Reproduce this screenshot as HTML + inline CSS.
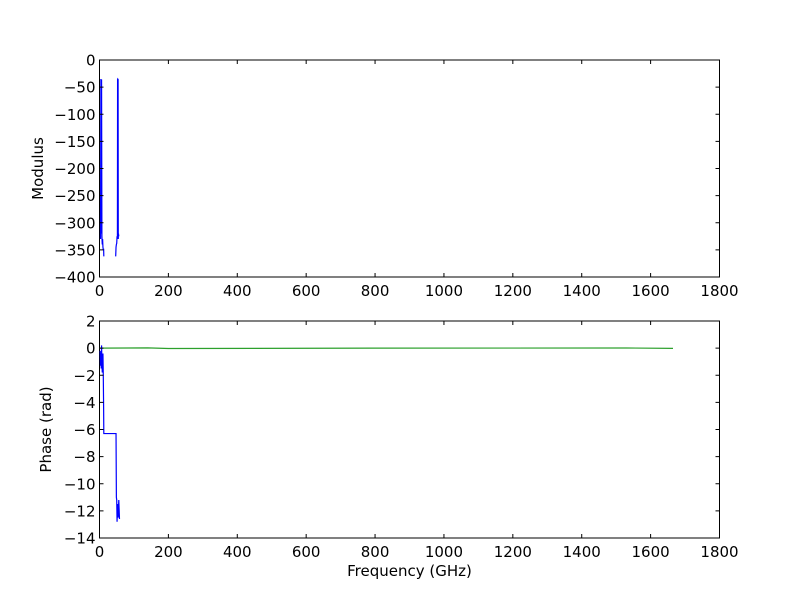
<!DOCTYPE html>
<html><head><meta charset="utf-8"><style>
body{margin:0;background:#fff}
svg{display:block;font-family:"DejaVu Sans","Liberation Sans",sans-serif}
</style></head><body>
<svg id="c" width="800" height="600" xmlns="http://www.w3.org/2000/svg">
<defs><clipPath id="clip1"><rect x="99.5" y="60" width="620" height="217"/></clipPath><clipPath id="clip2"><rect x="99.5" y="321" width="620" height="217"/></clipPath></defs>
</svg>
<script>
const xTicks=[0,200,400,600,800,1000,1200,1400,1600,1800];
const modTicks=[0,-50,-100,-150,-200,-250,-300,-350,-400];
const phaseTicks=[2,0,-2,-4,-6,-8,-10,-12,-14];
const modFreq=[3,4,5,6,7,8,9,10,11,12,12.5,13,47,48,49,50,51,52,52.5,53,54,54.5,55,56];
const modVal=[-330,-35,-320,-36,-325,-340,-330,-345,-350,-348,-362,null,-362,-345,-340,-338,-325,-330,-36,-35,-36,-330,-320,-325];
const phFreq=[2,3,4,5,6,7,8,9,10,11,12,12.5,48,49,50,51,52,54,56,58];
const phVal=[-0.2,-1.3,-0.5,-1.5,0.2,-1.0,-1.8,-1.2,-0.4,-2,-4.5,-6.3,-6.3,-11,-11.2,-12.8,-11.5,-12.5,-11.2,-12.6];
const gFreq=[0,140,200,800,1530,1665];
const gVal=[0,0.02,-0.03,0,0.01,-0.02];

const NS="http://www.w3.org/2000/svg";
const svg=document.getElementById('c');
const L=99.5,R=719.5;
const xs=v=>L+(v-0)/1800*(R-L);
function mk(tag,attrs,parent){const e=document.createElementNS(NS,tag);for(const k in attrs)e.setAttribute(k,attrs[k]);(parent||svg).appendChild(e);return e;}
function axes(name,top,bot,ymax,ymin,yt,ylabel,ylx,clip){
  const ys=v=>top+(ymax-v)/(ymax-ymin)*(bot-top);
  const g=mk('g',{});
  
  
  const r=mk('rect',{x:L,y:top,width:R-L,height:bot-top,fill:'#fff',stroke:'#000','stroke-width':1},g);
  
  
  const pg=mk('g',{'clip-path':`url(#${clip})`},g);
  xTicks.forEach(t=>{const x=xs(t);
    mk('line',{x1:x,x2:x,y1:bot,y2:bot-4,stroke:'#000'},g);
    mk('line',{x1:x,x2:x,y1:top,y2:top+4,stroke:'#000'},g);
    const tx=mk('text',{x:x,y:bot+19,'font-size':15,'text-anchor':'middle'},g);tx.textContent=t;
    
    
  });
  yt.forEach(t=>{const y=ys(t);
    mk('line',{x1:L,x2:L+4,y1:y,y2:y,stroke:'#000'},g);
    mk('line',{x1:R,x2:R-4,y1:y,y2:y,stroke:'#000'},g);
    const tx=mk('text',{x:L-4,y:y+5.5,'font-size':15,'text-anchor':'end'},g);tx.textContent=String(t).replace('-','\u2212');
    
    
  });
  const yl=mk('text',{x:ylx,y:(top+bot)/2,'font-size':15,'text-anchor':'middle',transform:`rotate(-90 ${ylx} ${(top+bot)/2})`},g);
  yl.textContent=ylabel;
  
  
  return {ys,g:pg};
}
function line(ax,fx,fy,color,name){
  let d='',pen=false;
  fx.forEach((f,i)=>{
    if(fy[i]===null){pen=false;return;}
    d+=(pen?'L':'M')+xs(f).toFixed(2)+' '+ax.ys(fy[i]).toFixed(2)+' ';pen=true;
  });
  const p=mk('path',{d:d,fill:'none',stroke:color,'stroke-width':1.2},ax.g);
  
  
}
const a1=axes('modulus-axes',60,277,0,-400,modTicks,'Modulus',43,'clip1');
line(a1,modFreq,modVal,'#0000ff','modulus-series');
const a2=axes('phase-axes',321,538,2,-14,phaseTicks,'Phase (rad)',51,'clip2');
line(a2,gFreq,gVal,'#2ca02c','phase-series-green');
line(a2,phFreq,phVal,'#0000ff','phase-series-blue');
const xl=mk('text',{x:409.5,y:576,'font-size':15,'text-anchor':'middle'});
xl.textContent='Frequency (GHz)';


</script>
</body></html>
